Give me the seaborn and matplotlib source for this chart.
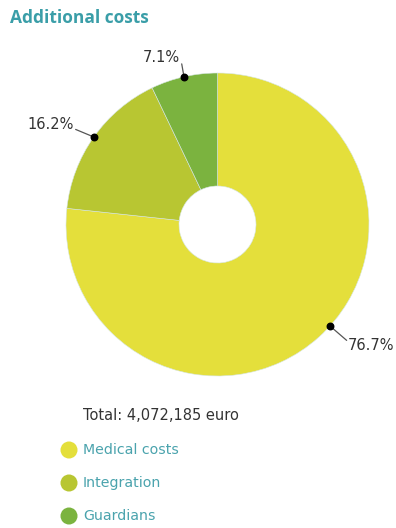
import numpy as np
import matplotlib
matplotlib.use("Agg")
import matplotlib.pyplot as plt
import seaborn as sns

# Cost breakdown
categories = ["Medical costs", "Integration", "Guardians"]
shares = [76.7, 16.2, 7.1]
colors = ["#e4df3b", "#b8c632", "#7bb33f"]
total_label = "Total: 4,072,185 euro"
title = "Additional costs"

sns.set_style("white")
plt.rcParams["font.family"] = ["DejaVu Sans"]

W, H = 396, 528
fig = plt.figure(figsize=(W / 100, H / 100), dpi=100)

# pie placed in a square pixel box
cx, cy, r = 217.5, 224.5, 151.5
ax = fig.add_axes([(cx - r) / W, (H - cy - r) / H, 2 * r / W, 2 * r / H])
wedges, _ = ax.pie(shares, colors=colors, startangle=90, counterclock=False,
                   radius=1.0,
                   wedgeprops=dict(width=1 - 38.5 / r, edgecolor="#d6e6e3",
                                   linewidth=0.4))
ax.set_xlim(-1, 1)
ax.set_ylim(-1, 1)
ax.axis("off")

# percentage labels with connector dots on the outer edge
nudge = [6, 0, 0]
text_off = [(0.11, -0.095), (-0.12, 0.05), (-0.015, 0.085)]
ty_shift = [-0.035, 0.03, 0.04]
for w, s, dn, (ox, oy), sh in zip(wedges, shares, nudge, text_off, ty_shift):
    ang = np.deg2rad((w.theta1 + w.theta2) / 2 + dn)
    px, py = np.cos(ang), np.sin(ang)
    tx, ty = px + ox, py + oy
    ha = "left" if ox > 0.05 else "right"
    ax.plot([px, tx], [py, ty], color="#555555", lw=0.9, clip_on=False)
    ax.scatter([px], [py], s=22, color="black", zorder=5, clip_on=False)
    ax.text(tx + (0.005 if ha == "left" else -0.01), ty + sh,
            f"{s}%", ha=ha, va="center", fontsize=10.5, color="#333333",
            clip_on=False)

# overlay in pixel coordinates for title, total and legend
ov = fig.add_axes([0, 0, 1, 1])
ov.set_xlim(0, W)
ov.set_ylim(H, 0)
ov.axis("off")
ov.patch.set_alpha(0)

ov.text(10, 18, title, fontsize=12.5, color="#3a9ea8", family="Open Sans",
        fontweight="bold", va="center", ha="left")
ov.text(83, 415, total_label, fontsize=10.5, color="#333333", va="center", ha="left")

for i, (name, c) in enumerate(zip(categories, colors)):
    y = 450 + i * 33
    ov.scatter([69], [y], s=150, color=c, edgecolor="none")
    ov.text(83, y, name, fontsize=10.2, color="#4aa3ad", va="center", ha="left")

fig.savefig("out.png", dpi=100, facecolor="white")
